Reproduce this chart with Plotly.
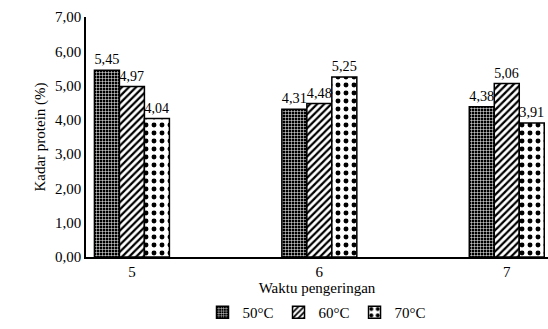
import plotly.graph_objects as go

categories = ["5", "6", "7"]
series_names = ["50°C", "60°C", "70°C"]
v50 = [5.45, 4.31, 4.38]
v60 = [4.97, 4.48, 5.06]
v70 = [4.04, 5.25, 3.91]
y_ticks = [0, 1, 2, 3, 4, 5, 6, 7]

patterns = [
    dict(shape="+", bgcolor="black", fgcolor="white", size=3, solidity=0.3, fillmode="replace"),
    dict(shape="/", bgcolor="white", fgcolor="black", size=5, solidity=0.45, fillmode="replace"),
    dict(shape=".", bgcolor="white", fgcolor="black", size=8, solidity=0.3, fillmode="replace"),
]

font = dict(family="Times New Roman, Liberation Serif, serif", size=15, color="black")

fig = go.Figure()
for name, vals, pat in zip(series_names, [v50, v60, v70], patterns):
    fig.add_trace(go.Bar(
        x=categories, y=vals, name=name,
        marker=dict(color="white", pattern=pat, line=dict(color="black", width=1.5)),
        text=[f"{v:.2f}".replace(".", ",") for v in vals],
        textposition="outside", cliponaxis=False,
        textfont=font,
    ))

fig.update_layout(
    width=548, height=329,
    margin=dict(l=86, r=0, t=17, b=72),
    paper_bgcolor="white", plot_bgcolor="white",
    barmode="group", bargap=0.6, bargroupgap=0,
    separators=", ",
    font=font,
    showlegend=True,
    legend=dict(orientation="h", x=0.5, xanchor="center", yref="container", y=0.0,
                yanchor="bottom", font=font, itemwidth=30, traceorder="normal",
                bgcolor="rgba(0,0,0,0)"),
    uniformtext=dict(mode=False),
)
fig.update_xaxes(
    type="category", range=[-0.245, 2.22],
    showline=True, linecolor="black", linewidth=1.5, ticks="", showgrid=False,
    title=dict(text="Waktu pengeringan", font=font, standoff=6),
    tickfont=font,
)
fig.update_yaxes(
    range=[0, 7], tickvals=y_ticks, tickformat=".2f",
    showline=True, linecolor="black", linewidth=1.5, ticks="", showgrid=False,
    title=dict(text="Kadar protein (%)", font=font, standoff=6),
    tickfont=font, zeroline=False,
)

fig.write_html("out.html")
